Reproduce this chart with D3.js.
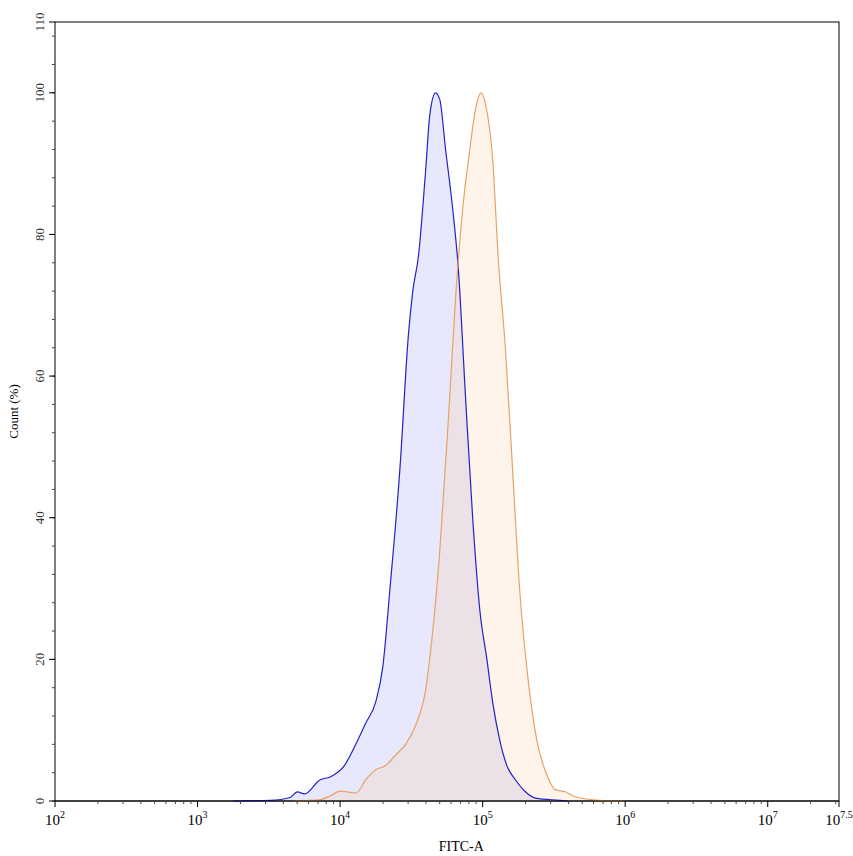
<!DOCTYPE html>
<html><head><meta charset="utf-8">
<script src="https://cdn.jsdelivr.net/npm/d3@7"></script>
<style>body{margin:0;background:#fff}</style>
</head><body><svg id="c"></svg>
<script>
// log10(FITC-A), count %
const blueLg  = [3.25,3.51,3.65,3.70,3.75,3.86,3.93,4.03,4.11,4.18,4.25,4.30,4.35,4.42,4.48,4.51,4.55,4.60,4.63,4.67,4.70,4.74,4.79,4.83,4.88,4.93,4.98,5.03,5.07,5.12,5.17,5.23,5.30,5.37,5.54,5.60];
const blueVal = [0,0.1,0.5,1.3,1.0,3.0,3.4,5.0,8.0,11,14,19,30,47,66,72,77,89,97,100,99,92,83.6,75,57,40,27,20,14,8.6,5.0,3.0,1.3,0.4,0.1,0];
const orangeLg  = [3.68,3.86,3.93,4.00,4.05,4.11,4.18,4.25,4.32,4.39,4.46,4.53,4.60,4.65,4.70,4.76,4.81,4.86,4.91,4.95,4.99,5.02,5.07,5.11,5.16,5.21,5.26,5.32,5.38,5.45,5.51,5.58,5.65,5.82,6.00];
const orangeVal = [0,0.2,0.7,1.4,1.3,1.1,3.0,4.4,5.0,6.5,8.0,10.7,15.7,24,35.5,54,71,83.6,92,97.7,100,98.4,90.7,76.5,63.8,46.8,29.8,17,8.6,3.7,1.6,1.3,0.6,0.1,0];
const xMajor = [2,3,4,5,6,7,7.5];
const yMajor = [0,20,40,60,80,100,110];

const W = 853, H = 856, m = {l:55, r:14, t:22, b:55};
const svg = d3.select("#c").attr("width", W).attr("height", H)
  .style("font-family", "'Liberation Serif', serif");

const x = d3.scaleLinear().domain([2, 7.5]).range([m.l, W - m.r]);
const y = d3.scaleLinear().domain([0, 110]).range([H - m.b, m.t]);

svg.append("rect").attr("x", m.l).attr("y", m.t)
  .attr("width", x(7.5) - m.l).attr("height", y(0) - m.t)
  .attr("fill", "none").attr("stroke", "#000");

const area = d3.area().x(d => x(d[0])).y0(y(0)).y1(d => y(d[1])).curve(d3.curveMonotoneX);
const line = d3.line().x(d => x(d[0])).y(d => y(d[1])).curve(d3.curveMonotoneX);
const blue = blueLg.map((v, i) => [v, blueVal[i]]);
const orange = orangeLg.map((v, i) => [v, orangeVal[i]]);

svg.append("path").attr("d", area(blue)).attr("fill", "rgb(120,120,240)").attr("fill-opacity", 0.17);
svg.append("path").attr("d", area(orange)).attr("fill", "rgb(250,190,130)").attr("fill-opacity", 0.17);
svg.append("path").attr("d", line(blue)).attr("fill", "none").attr("stroke", "#2222c8").attr("stroke-width", 1.2);
svg.append("path").attr("d", line(orange)).attr("fill", "none").attr("stroke", "#e8a265").attr("stroke-width", 1.2);

// x axis
const minorX = [];
for (let d = 2; d < 8; d++) for (let k = 2; k <= 9; k++) {
  const v = d + Math.log10(k);
  if (v < 7.5) minorX.push(v);
}
const ax = svg.append("g").attr("transform", `translate(0,${y(0)})`);
ax.append("line").attr("x1", m.l).attr("x2", x(7.5)).attr("stroke", "#000");
ax.selectAll(".mi").data(minorX).join("line")
  .attr("x1", d => x(d)).attr("x2", d => x(d)).attr("y2", 3).attr("stroke", "#444");
ax.selectAll(".ma").data(xMajor).join("line")
  .attr("x1", d => x(d)).attr("x2", d => x(d)).attr("y2", 6).attr("stroke", "#000");
const xt = ax.selectAll("text").data(xMajor).join("text")
  .attr("x", d => x(d)).attr("y", 24).attr("text-anchor", "middle")
  .attr("font-size", 15).attr("fill", "#000");
xt.append("tspan").text("10");
xt.append("tspan").attr("dy", -7).attr("font-size", 10).text(d => d);

// y axis
const minorY = d3.range(0, 111, 4);
const ay = svg.append("g").attr("transform", `translate(${m.l},0)`);
ay.selectAll(".mi").data(minorY).join("line")
  .attr("y1", d => y(d)).attr("y2", d => y(d)).attr("x2", -3).attr("stroke", "#444");
ay.selectAll(".ma").data(yMajor).join("line")
  .attr("y1", d => y(d)).attr("y2", d => y(d)).attr("x2", -6).attr("stroke", "#000");
ay.selectAll("text").data(yMajor).join("text")
  .attr("transform", d => `translate(-11,${y(d)}) rotate(-90)`)
  .attr("text-anchor", "middle").attr("font-size", 13).attr("fill", "#333").text(d => d);

svg.append("text").attr("x", x(4.85)).attr("y", H - 5).attr("text-anchor", "middle")
  .attr("font-size", 14).text("FITC-A");
svg.append("text").attr("transform", `translate(18,${y(55)}) rotate(-90)`)
  .attr("text-anchor", "middle").attr("font-size", 13).text("Count  (%)");
</script></body></html>
